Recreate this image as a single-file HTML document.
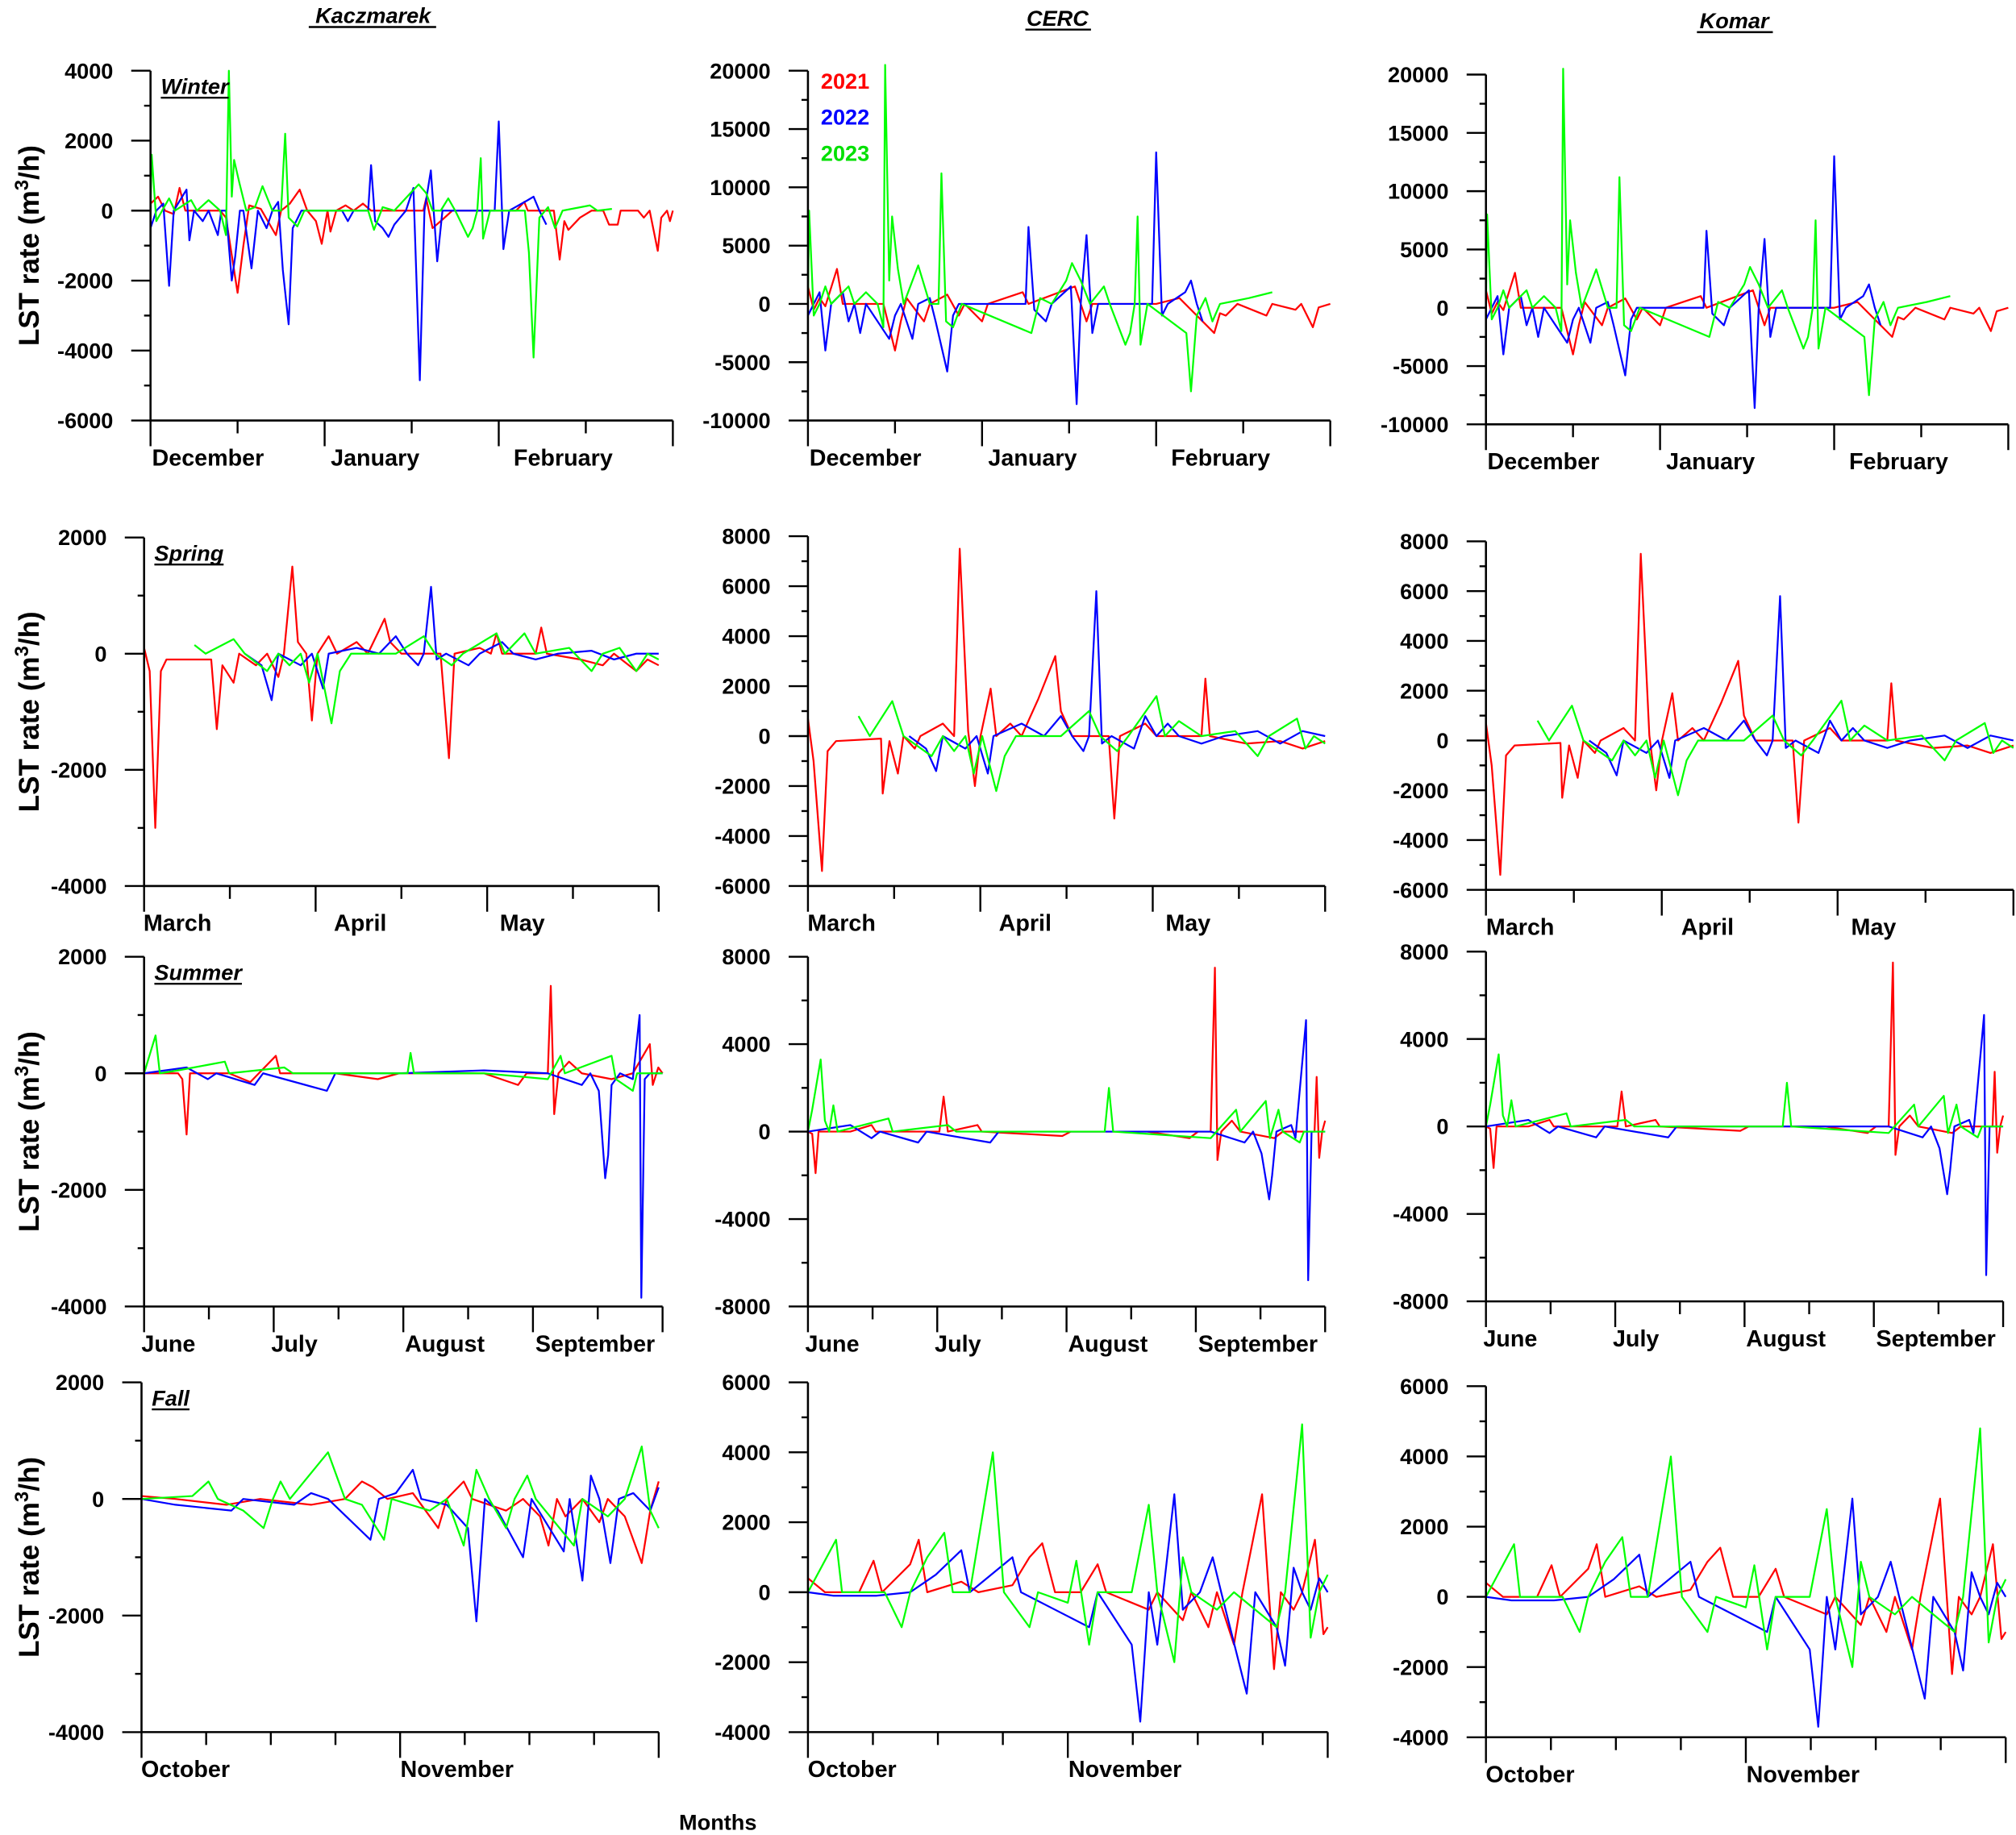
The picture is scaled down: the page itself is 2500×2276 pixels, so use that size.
<!DOCTYPE html>
<html><head><meta charset="utf-8">
<style>
html,body{margin:0;padding:0;background:#fff;}
svg{display:block;font-family:"Liberation Sans",Arial,sans-serif;}
</style></head>
<body>
<svg id="fig" xmlns="http://www.w3.org/2000/svg" width="2500" height="2276" viewBox="0 0 1567 1427" preserveAspectRatio="none">
<rect x="0" y="0" width="1567" height="1427" fill="#fff"/>
<text x="290" y="18" font-size="17" font-weight="bold" font-style="italic" text-anchor="middle">Kaczmarek</text>
<line x1="240" y1="21" x2="339" y2="21" stroke="#000" stroke-width="1.5"/>
<text x="822" y="20" font-size="17" font-weight="bold" font-style="italic" text-anchor="middle">CERC</text>
<line x1="797" y1="23" x2="848" y2="23" stroke="#000" stroke-width="1.5"/>
<text x="1348" y="22" font-size="17" font-weight="bold" font-style="italic" text-anchor="middle">Komar</text>
<line x1="1319" y1="25" x2="1378" y2="25" stroke="#000" stroke-width="1.5"/>
<text x="558" y="1423" font-size="17" font-weight="bold" text-anchor="middle">Months</text>
<g font-size="17" font-weight="bold">
<text x="638" y="69" fill="#ff0000">2021</text>
<text x="638" y="97" fill="#0000ff">2022</text>
<text x="638" y="125" fill="#00e000">2023</text>
</g>
<g id="plots"></g>
</svg>
<script>
// ---------- data: [day, LST rate] ----------
const kaczWinterRed=[[0,200],[1.3,400],[2.5,0],[4,-100],[5,650],[6,0],[12,0],[13,-200],[15,-2350],[16,-1000],[17,150],[19,50],[21.6,-700],[22.5,0],[24,200],[25.7,600],[27,0],[28.5,-300],[29.5,-950],[30.5,0],[31,-600],[32,0],[33.6,150],[35,0],[36.6,200],[38,0],[47,0],[47.5,350],[48.6,-500],[50,-300],[52,0],[63,0],[64.4,250],[65,0],[69.5,0],[70.5,-1400],[71.3,-300],[72,-550],[74,-200],[76,0],[78,0],[79,-400],[80.5,-400],[81,0],[84,0],[85,-200],[86,0],[87.4,-1150],[88,-200],[89,0],[89.5,-300],[90,0]];
const kaczWinterBlue=[[0,-500],[1,0],[2.2,200],[3.2,-2150],[4,0],[6.2,600],[6.7,-850],[7.5,0],[9,-300],[10,0],[11.6,-700],[12.2,0],[13,0],[14,-2000],[14.6,-1300],[15.4,0],[16,0],[17.4,-1650],[18.5,0],[20,-500],[21,0],[22,250],[22.8,-1700],[23.8,-3250],[24.5,-500],[26,0],[33,0],[34,-300],[35,0],[37.5,0],[38,1300],[38.7,-300],[40,-500],[41,-750],[42,-400],[43,-200],[44,0],[45.3,650],[46.4,-4850],[47.2,0],[48.3,1150],[49.4,-1450],[50.3,0],[59.3,0],[60,2550],[60.8,-1100],[61.8,0],[65,300],[66,400],[67,0],[68.2,-400]];
const kaczWinterGreen=[[0,0],[0.2,1600],[1,-300],[2,0],[3.2,350],[4.2,0],[7,300],[8,0],[10,300],[12,0],[13,-700],[13.5,4000],[14,400],[14.4,1450],[15.3,800],[16.5,0],[18,100],[19.3,700],[21,0],[22.5,0],[23.2,2200],[23.8,-200],[25.3,-450],[26.5,0],[37.5,0],[38.5,-550],[40,100],[42,0],[44.5,450],[46.2,750],[47.5,500],[48.6,0],[50,0],[51.3,350],[52.5,0],[54.7,-750],[55.5,-500],[56.3,0],[56.9,1500],[57.3,-800],[58.5,0],[64.5,0],[65.2,-1200],[66,-4200],[67,-200],[68.5,100],[69.7,-500],[71,0],[75.7,150],[77,0],[79.5,50]];
const cercWinterRed=[[0,1500],[1,-500],[2,500],[3,-200],[5,3000],[6,0],[13,0],[15,-4000],[16,-1500],[17,500],[20,-1500],[21,0],[24,800],[26,-1000],[27,0],[30,-1500],[31,0],[34,500],[37,1000],[38,0],[46,1500],[48,-1500],[49,0],[60,0],[64,500],[65,0],[70,-2500],[71,-800],[72,-1000],[74,0],[79,-1000],[80,0],[84,-500],[85,0],[87,-2000],[88,-300],[90,0]];
const cercWinterBlue=[[0,-1000],[1,0],[2,1000],[3,-4000],[4,0],[6,1000],[7,-1500],[8,0],[9,-2500],[10,0],[14,-3000],[15,-1000],[16,0],[18,-3000],[19,0],[21,500],[22,-1500],[24,-5800],[25,-1000],[26,0],[37.5,0],[38,6600],[39,-500],[41,-1500],[42,0],[45.3,1500],[46.3,-8600],[47,0],[48,5900],[49,-2500],[50,0],[59.3,0],[60,13000],[61,-1000],[62,0],[65,1000],[66,2000],[67,0],[68,-1500]];
const cercWinterGreen=[[0,0],[0.2,8000],[1,-1000],[2,0],[3,1500],[4,0],[7,1500],[8,0],[10,1000],[12,0],[13,-2000],[13.3,20500],[14,2000],[14.5,7500],[15.5,3000],[16.5,0],[19,3300],[21,0],[22.5,0],[23,11200],[23.8,-1500],[25,-2000],[26.5,0],[38.5,-2500],[40,500],[42,0],[44.5,2000],[45.5,3500],[47,2000],[48.6,0],[51,1500],[52,0],[54.7,-3500],[55.5,-2500],[56.3,0],[56.8,7500],[57.3,-3500],[58.5,0],[65.2,-2500],[66,-7500],[67,-1000],[68.5,500],[69.7,-1500],[71,0],[76,500],[80,1000]];

const kaczSpringRed=[[0,100],[1,-300],[2,-3000],[3,-300],[4,-100],[12,-100],[13,-1300],[14,-200],[16,-500],[17,0],[20,-200],[22,0],[24,-400],[25,0],[26.5,1500],[27.5,200],[29,0],[30,-1150],[31,0],[33,300],[34.5,0],[38,200],[40,0],[42,400],[43,600],[44,200],[46,0],[53,0],[54.5,-1800],[55.5,0],[60,100],[62,0],[63,350],[64,0],[70,0],[71,450],[72,0],[78,-100],[82,-200],[84,0],[88,-300],[90,-100],[92,-200]];
const kaczSpringBlue=[[18,0],[21,-200],[22.8,-800],[24,0],[28,-200],[30,0],[32,-600],[33,0],[38,100],[42,0],[45,300],[47,0],[49,-200],[50,0],[51.3,1150],[52.3,-100],[54,0],[58,-200],[60,0],[64,200],[66,0],[70,-100],[74,0],[80,50],[84,-100],[88,0],[92,0]];
const kaczSpringGreen=[[9,150],[11,0],[16,250],[18,0],[22,-300],[24,0],[26,-200],[28,0],[29.5,-500],[31,0],[33.5,-1200],[35,-300],[37,0],[45,0],[50,300],[52,0],[55,-200],[57,0],[63,350],[64.5,0],[68,350],[70,0],[76,100],[80,-300],[82,0],[85,100],[88,-300],[90,0],[92,-100]];
const cercSpringRed=[[0,700],[1,-1000],[2.5,-5400],[3.5,-600],[5,-200],[13,-100],[13.3,-2300],[14.5,-200],[16,-1500],[17,0],[19,-500],[20,0],[24,500],[26,0],[27,7500],[28.5,200],[29.7,-2000],[30.7,0],[32.5,1900],[33.5,0],[36,500],[38,0],[41,1500],[44,3200],[45,1000],[47,0],[53.5,0],[54.5,-3300],[55.5,0],[60,500],[62,0],[70,0],[70.7,2300],[71.5,0],[78,-300],[84,-200],[88,-500],[92,-200]];
const cercSpringBlue=[[18,0],[21,-500],[22.8,-1400],[24,0],[28,-500],[30,0],[32,-1500],[33,0],[38,500],[42,0],[45,800],[47,0],[49,-600],[50,0],[51.3,5800],[52.3,-300],[54,0],[58,-500],[60,800],[62,0],[64,500],[66,0],[70,-300],[74,0],[80,200],[84,-300],[88,200],[92,0]];
const cercSpringGreen=[[9,800],[11,0],[15,1400],[17,0],[22,-800],[24,0],[26,-600],[28,0],[29.5,-1500],[31,0],[33.5,-2200],[35,-800],[37,0],[45,0],[50,1000],[52,0],[55,-600],[57,0],[62,1600],[63.5,0],[66,600],[70,0],[76,200],[80,-800],[82,0],[87,700],[88.5,-500],[90,0],[92,-300]];

const kaczSummerRed=[[0,0],[8,0],[9,-100],[10,-1050],[10.8,0],[20,0],[25,-150],[27,0],[31,300],[32,0],[45,0],[55,-100],[60,0],[80,0],[88,-200],[90,0],[95,0],[95.7,1500],[96.5,-700],[97.5,0],[100,200],[103,0],[110,-100],[115,0],[119,500],[119.7,-200],[121,100],[122,0]];
const kaczSummerBlue=[[0,0],[10,100],[15,-100],[17,0],[26,-200],[28,0],[43,-300],[45,0],[60,0],[80,50],[95,0],[103,-200],[105,0],[107,-300],[108.5,-1800],[109.2,-1400],[110,-200],[112,0],[115,-100],[116.6,1000],[117,-3850],[117.8,-100],[119,0],[122,0]];
const kaczSummerGreen=[[0,0],[2.7,650],[3.7,0],[8,50],[19,200],[20,0],[33,100],[35,0],[55,0],[62,0],[62.7,350],[63.5,0],[80,0],[95,-100],[98,300],[99,0],[110,300],[111,-100],[115,-300],[116,0],[122,0]];
const cercSummerRed=[[0,0],[1,-100],[1.8,-1900],[2.5,0],[10,0],[15,300],[16,0],[31,0],[32,1600],[33,0],[40,300],[41,0],[60,-200],[62,0],[80,0],[90,-300],[92,0],[95,0],[96,7500],[96.6,-1300],[97.5,0],[100,500],[102,0],[110,-300],[112,0],[119.5,0],[120,2500],[120.6,-1200],[121.3,0],[122,500]];
const cercSummerBlue=[[0,0],[10,300],[15,-300],[17,0],[26,-500],[28,0],[43,-500],[45,0],[60,0],[95,0],[103,-500],[105,0],[107,-1000],[108.8,-3100],[109.5,-2000],[110.5,0],[114,300],[115,-300],[117.5,5100],[118,-6800],[118.8,0],[122,0]];
const cercSummerGreen=[[0,0],[1,1000],[3,3300],[4,500],[5,0],[6,1200],[7,0],[19,600],[20,0],[33,300],[35,0],[70,0],[71,2000],[72,0],[95,-300],[101,1000],[102,0],[108,1400],[109,-300],[111,1000],[112,0],[116,-500],[117,0],[122,0]];

const kaczFallRed=[[0,50],[4,0],[10,-100],[14,0],[20,-100],[24,0],[26,300],[27.3,200],[29,0],[32,100],[35,-500],[36,0],[38,300],[39,0],[43,-200],[45,0],[47,-300],[48,-800],[49,0],[50,-300],[52,0],[54,-400],[55,0],[57,-300],[59,-1100],[60,-200],[61,300]];
const kaczFallBlue=[[0,0],[4,-100],[10.6,-200],[12,0],[18,-100],[20,100],[22,0],[27,-700],[28,0],[30,100],[32,500],[33,0],[36,-100],[38.5,-500],[39.5,-2100],[40.5,0],[42,-200],[45,-1000],[46,0],[49.8,-900],[50.5,0],[52,-1400],[53,400],[54,0],[55.3,-1100],[56.3,0],[58,100],[60,-200],[61,200]];
const kaczFallGreen=[[0,0],[6,50],[7.9,300],[9,0],[12,-200],[14.4,-500],[15.5,0],[16.4,300],[17.5,0],[22,800],[24,0],[26,-100],[28.6,-700],[29.5,0],[34,-200],[36,0],[38,-800],[39.5,500],[41,0],[43,-500],[44,0],[45.5,400],[46.5,0],[51,-800],[52,0],[55,-300],[57,0],[59,900],[60,-200],[61,-500]];
const cercFallRed=[[0,400],[2,0],[6,0],[7.7,900],[8.7,0],[12,800],[13,1500],[14,0],[18,300],[20,0],[24,200],[26,1000],[27.5,1400],[29,0],[32,0],[34,800],[35,0],[40,-500],[41,0],[44,-800],[45,0],[47,-1000],[48,0],[50,-1500],[51,0],[53.3,2800],[54.7,-2200],[55.5,0],[57,-500],[58,0],[59.5,1500],[60.5,-1200],[61,-1000]];
const cercFallBlue=[[0,0],[3,-100],[8,-100],[12,0],[15,500],[18,1200],[19,0],[24,1000],[25,0],[29,-500],[33,-1000],[34,0],[38,-1500],[39,-3700],[40,0],[41,-1500],[43,2800],[44,-500],[46,0],[47.5,1000],[48.5,0],[51.5,-2900],[52.5,0],[55,-1000],[56,-2100],[57,700],[58,0],[59,-500],[60,400],[61,0]];
const cercFallGreen=[[0,0],[3.3,1500],[4,0],[9,0],[11,-1000],[12,0],[14,1000],[16,1700],[17,0],[19,0],[21.7,4000],[23,0],[26,-1000],[27,0],[30.5,-300],[31.5,900],[33,-1500],[34,0],[38,0],[40,2500],[41,0],[43,-2000],[44,1000],[45,0],[48,-500],[50,0],[55,-1000],[56,0],[58,4800],[59,-1300],[60,0],[61,500]];

const komarWinter=[cercWinterRed,cercWinterBlue,cercWinterGreen];
const komarSpring=[cercSpringRed,cercSpringBlue,cercSpringGreen];
const komarSummer=[cercSummerRed,cercSummerBlue,cercSummerGreen];
const komarFall=[cercFallRed,cercFallBlue,cercFallGreen];

const winterMonths=["December","January","February"];
const springMonths=["March","April","May"];
const summerMonths=["June","July","August","September"];
const fallMonths=["October","November"];
const seasonNames=["Winter","Spring","Summer","Fall"];

// ---------- layout ----------
const colors=["#ff0000","#0000ff","#00ff00"];
const seasons=[
 {name:"winter",days:90,nTicks:7,months:winterMonths,mf:[0.11,0.43,0.79],
  panels:[{x0:117,x1:523,yT:55,yB:327,max:4000,min:-6000,step:2000,data:[kaczWinterRed,kaczWinterBlue,kaczWinterGreen]},
          {x0:628,x1:1034,yT:55,yB:327,max:20000,min:-10000,step:5000,data:[cercWinterRed,cercWinterBlue,cercWinterGreen]},
          {x0:1155,x1:1561,yT:58,yB:330,max:20000,min:-10000,step:5000,data:komarWinter}]},
 {name:"spring",days:92,nTicks:7,months:springMonths,mf:[0.065,0.42,0.735],
  panels:[{x0:112,x1:512,yT:418,yB:689,max:2000,min:-4000,step:2000,data:[kaczSpringRed,kaczSpringBlue,kaczSpringGreen]},
          {x0:628,x1:1030,yT:417,yB:689,max:8000,min:-6000,step:2000,data:[cercSpringRed,cercSpringBlue,cercSpringGreen]},
          {x0:1155,x1:1565,yT:421,yB:692,max:8000,min:-6000,step:2000,data:komarSpring}]},
 {name:"summer",days:122,nTicks:9,months:summerMonths,mf:[0.047,0.29,0.58,0.87],
  panels:[{x0:112,x1:515,yT:744,yB:1016,max:2000,min:-4000,step:2000,data:[kaczSummerRed,kaczSummerBlue,kaczSummerGreen]},
          {x0:628,x1:1030,yT:744,yB:1016,max:8000,min:-8000,step:4000,data:[cercSummerRed,cercSummerBlue,cercSummerGreen]},
          {x0:1155,x1:1557,yT:740,yB:1012,max:8000,min:-8000,step:4000,data:komarSummer}]},
 {name:"fall",days:61,nTicks:9,months:fallMonths,mf:[0.085,0.61],
  panels:[{x0:110,x1:512,yT:1075,yB:1347,max:2000,min:-4000,step:2000,data:[kaczFallRed,kaczFallBlue,kaczFallGreen]},
          {x0:628,x1:1032,yT:1075,yB:1347,max:6000,min:-4000,step:2000,data:[cercFallRed,cercFallBlue,cercFallGreen]},
          {x0:1155,x1:1559,yT:1078,yB:1351,max:6000,min:-4000,step:2000,data:komarFall}]}
];
const models=["kaczmarek","cerc","komar"];
const NS="http://www.w3.org/2000/svg";
const root=document.getElementById("plots");
function mk(tag,attrs,parent){const e=document.createElementNS(NS,tag);for(const k in attrs)e.setAttribute(k,attrs[k]);parent.appendChild(e);return e;}

seasons.forEach((s,si)=>{
 s.panels.forEach((p,pi)=>{
  const g=mk("g",{},root);
  
  
  const xs=d=>p.x0+(p.x1-p.x0)*d/s.days;
  const ys=v=>p.yB-(p.yB-p.yT)*(v-p.min)/(p.max-p.min);
  p.data.forEach((ser,ci)=>{
   const pts=ser.map(q=>xs(q[0]).toFixed(2)+","+ys(q[1]).toFixed(2)).join(" ");
   const pl=mk("polyline",{points:pts,fill:"none",stroke:colors[ci],"stroke-width":1.4,"stroke-linejoin":"round"},g);
   
   
  });
  const ax=mk("path",{d:`M${p.x0},${p.yT} V${p.yB} H${p.x1}`,fill:"none",stroke:"#000","stroke-width":1.6},g);
  
  
  for(let v=p.min; v<=p.max+1e-6; v+=p.step/2){
   const y=ys(v); const major=Math.abs((v-p.min)%p.step)<1e-6;
   mk("line",{x1:p.x0-(major?15:5),x2:p.x0,y1:y,y2:y,stroke:"#000","stroke-width":1.5},g);
   if(major){
    const t=mk("text",{x:p.x0-29,y:y+6,"font-size":17,"font-weight":"bold","text-anchor":"end"},g);
    t.textContent=String(v);
    
    
   }
  }
  const n=s.nTicks-1, per=n/s.months.length;
  for(let i=0;i<=n;i++){
   const x=p.x0+(p.x1-p.x0)*i/n; const major=(i%per)===0;
   mk("line",{x1:x,x2:x,y1:p.yB,y2:p.yB+(major?20:10),stroke:"#000","stroke-width":1.5},g);
  }
  s.months.forEach((m,mi)=>{
   const t=mk("text",{x:p.x0+(p.x1-p.x0)*s.mf[mi],y:p.yB+35,"font-size":18,"font-weight":"bold","text-anchor":"middle"},g);
   t.textContent=m;
   
   
  });
  if(pi===0){
   const lx=p.x0+8, ly=p.yT+18;
   const t=mk("text",{x:lx,y:ly,"font-size":17,"font-weight":"bold","font-style":"italic"},g);
   t.textContent=seasonNames[si];
   
   
   const w=t.getComputedTextLength?t.getComputedTextLength():55;
   mk("line",{x1:lx,x2:lx+w,y1:ly+3,y2:ly+3,stroke:"#000","stroke-width":1.5},g);
   const cy=(p.yT+p.yB)/2;
   const yt=mk("text",{x:0,y:0,"font-size":22,"font-weight":"bold","text-anchor":"middle",transform:`translate(30,${cy}) rotate(-90)`},g);
   yt.innerHTML='LST rate (m<tspan baseline-shift="super" font-size="15">3</tspan>/h)';
   
   
  }
 });
});
</script>
</body></html>
